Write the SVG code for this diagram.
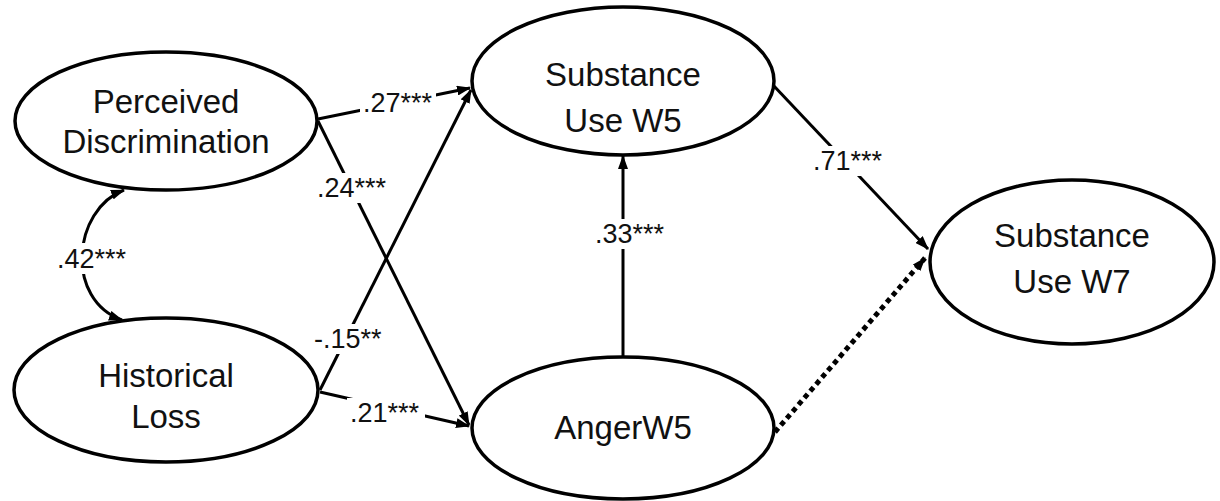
<svg xmlns="http://www.w3.org/2000/svg" width="1220" height="501" viewBox="0 0 1220 501">
<style>
.node ellipse{fill:#fff;stroke:#000;stroke-width:3.5}
.node text{font-family:"Liberation Sans",Arial,sans-serif;font-size:33px;fill:#111;text-anchor:middle}
.edge{fill:none;stroke:#000;stroke-width:3}
.dot{fill:none;stroke:#000;stroke-width:5;stroke-dasharray:5 4}
.lbl{font-family:"Liberation Sans",Arial,sans-serif;font-size:27px;fill:#111}
.bg{fill:#fff}
</style>
<defs>
<marker id="ah" viewBox="0 0 14 10" refX="13" refY="5" markerWidth="14" markerHeight="10" markerUnits="userSpaceOnUse" orient="auto-start-reverse">
<path d="M0,0 L14,5 L0,10 z" fill="#000"/>
</marker>
</defs>
<rect width="1220" height="501" fill="#fff"/>
<g id="connectors">
<path class="edge" d="M318,119 L470,88" marker-end="url(#ah)"/>
<path class="edge" d="M318,121 L469,425" marker-end="url(#ah)"/>
<path class="edge" d="M320,390 L471,90" marker-end="url(#ah)"/>
<path class="edge" d="M320,392 L469,426" marker-end="url(#ah)"/>
<path class="edge" d="M623,356 L623,156" marker-end="url(#ah)"/>
<path class="edge" d="M773,85 L928,249" marker-end="url(#ah)"/>
<path class="dot" d="M775,432 L925,258" marker-end="url(#ah)"/>
<path class="edge" d="M124,190 C72,210 65,300 122,320" marker-start="url(#ah)" marker-end="url(#ah)"/>
</g>
<g id="labels">
<rect class="bg" x="360" y="88" width="76" height="30"/>
<text class="lbl" x="363" y="112">.27***</text>
<rect class="bg" x="315" y="173" width="72" height="30"/>
<text class="lbl" x="317" y="197">.24***</text>
<rect class="bg" x="312" y="324" width="74" height="30"/>
<text class="lbl" x="314" y="348">-.15**</text>
<rect class="bg" x="347" y="398" width="78" height="30"/>
<text class="lbl" x="350" y="422">.21***</text>
<rect class="bg" x="592" y="219" width="76" height="30"/>
<text class="lbl" x="595" y="243">.33***</text>
<rect class="bg" x="810" y="146" width="76" height="30"/>
<text class="lbl" x="813" y="170">.71***</text>
<rect class="bg" x="54" y="243" width="76" height="31"/>
<text class="lbl" x="57" y="268">.42***</text>
</g>
<g id="perceived-discrimination" class="node">
<ellipse cx="166" cy="121" rx="151" ry="69"/>
<text x="166" y="113">Perceived</text>
<text x="166" y="153">Discrimination</text>
</g>
<g id="historical-loss" class="node">
<ellipse cx="166" cy="390" rx="152" ry="72"/>
<text x="166" y="387">Historical</text>
<text x="166" y="428">Loss</text>
</g>
<g id="substance-use-w5" class="node">
<ellipse cx="623" cy="81" rx="151" ry="74"/>
<text x="623" y="86">Substance</text>
<text x="623" y="132">Use W5</text>
</g>
<g id="anger-w5" class="node">
<ellipse cx="623" cy="428" rx="151" ry="71"/>
<text x="623" y="439">AngerW5</text>
</g>
<g id="substance-use-w7" class="node">
<ellipse cx="1072" cy="262" rx="142" ry="82"/>
<text x="1072" y="247">Substance</text>
<text x="1072" y="293">Use W7</text>
</g>
</svg>
